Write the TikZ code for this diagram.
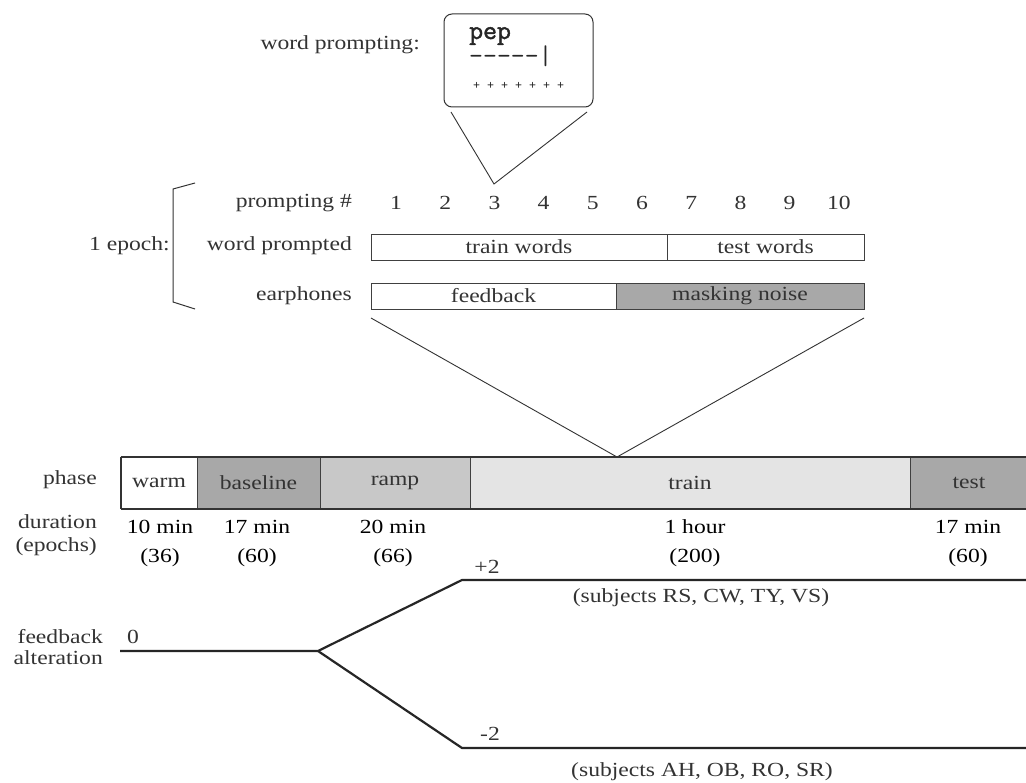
\documentclass[tikz,border=0pt]{standalone}
\usepackage{fontspec}
\setmainfont{Liberation Serif}[FakeStretch=1.18]
\newfontfamily\pepfont{Latin Modern Mono}[FakeBold=1.6]
\definecolor{dkfill}{HTML}{A8A8A8}
\definecolor{mdfill}{HTML}{C8C8C8}
\definecolor{ltfill}{HTML}{E4E4E4}
\definecolor{txtgray}{HTML}{333333}
\begin{document}
\begin{tikzpicture}[x=1pt,y=-1pt,
  lbl/.style={font=\fontsize{20}{22}\selectfont, text=txtgray, inner sep=0pt},
  dur/.style={font=\fontsize{20}{22}\selectfont, text=black, inner sep=0pt},
  seg/.style={draw=black!75, line width=0.9pt, inner sep=0pt, font=\fontsize{20}{22}\selectfont, text=txtgray},
  thinline/.style={line width=0.9pt, draw=black!80},
  fbline/.style={line width=2.2pt, draw=black!85, line join=miter},
  monotext/.style={inner sep=0pt, anchor=base west, text=black!85}]
\useasboundingbox (0,0) rectangle (1026,783);
\fill[white] (0,0) rectangle (1026,783);

% word prompting box
\node[lbl, anchor=east] (wpl) at (420,45) {word prompting:};
\node[draw=black!80, line width=1pt, rounded corners=8pt, minimum width=149pt, minimum height=93pt, inner sep=0pt] (promptbox) at (518.5,60.5) {};
\node[monotext, font=\pepfont\fontsize{27}{27}\selectfont] (pep) at (469,39) {pep};
\node[monotext, font=\ttfamily\fontsize{27}{27}\selectfont] (dash) at (469,65) {-----|};
\node[monotext, font=\ttfamily\fontsize{13.6}{14}\selectfont] (dots) at (473,90) {+ + + + + + +};
\coordinate (tl) at (451,112);
\coordinate (tr) at (587,112);
\coordinate (apexA) at (494,184);
\draw[thinline] (tl) -- (apexA) -- (tr);

% 1 epoch
\node[lbl, anchor=east] (epoch) at (170,246) {1 epoch:};
\draw[thinline, line width=1pt] (195,183) -- (173,189) -- (173,302) -- (195,309);
\node[lbl, anchor=east] (pnum) at (352,203) {prompting \#};
\node[lbl, anchor=east] (wprom) at (352,246) {word prompted};
\node[lbl, anchor=east] (earph) at (352,296) {earphones};
\foreach \i in {1,...,10}{
  \node[lbl] (n\i) at ({396+(\i-1)*49.2},203) {\i};
}
\node[seg, fill=white, minimum width=296pt, minimum height=26pt] (trainw) at (519,247) {train words};
\node[seg, fill=white, minimum width=197pt, minimum height=26pt] (testw) at (765.5,247) {test words};
\node[seg, fill=white, minimum width=245pt, minimum height=26pt] (fback) at (493.5,296) {feedback};
\node[seg, fill=dkfill, minimum width=248pt, minimum height=26pt] (mask) at (740,296) {masking noise};

\coordinate (bl) at (371,318);
\coordinate (br) at (864,318);
\coordinate (apexB) at (617,457);
\draw[thinline] (bl) -- (apexB) -- (br);

% phase bar
\node[lbl, anchor=east] (phase) at (97,480) {phase};
\node[seg, fill=white, minimum width=76pt, minimum height=52pt] (warm) at (159,483) {warm};
\node[seg, fill=dkfill, minimum width=123pt, minimum height=52pt] (base) at (258.5,483) {baseline};
\node[seg, fill=mdfill, minimum width=150pt, minimum height=52pt] (ramp) at (395,483) {ramp};
\node[seg, fill=ltfill, minimum width=440pt, minimum height=52pt] (train) at (690,483) {train};
\node[seg, fill=dkfill, minimum width=118pt, minimum height=52pt] (test) at (969,483) {test};
\draw[black!80, line width=2pt] (warm.north west) -- (test.north east);
\draw[black!80, line width=2pt] (warm.south west) -- (test.south east);
\draw[black!80, line width=2pt] (warm.north west) -- (warm.south west);

% durations
\node[lbl, anchor=east] (durl) at (97,522) {duration};
\node[lbl, anchor=east] (epl) at (97,547) {(epochs)};
\node[dur] (d1) at (160,527) {10 min};
\node[dur] (e1) at (160,558) {(36)};
\node[dur] (d2) at (257,527) {17 min};
\node[dur] (e2) at (257,558) {(60)};
\node[dur] (d3) at (393,527) {20 min};
\node[dur] (e3) at (393,558) {(66)};
\node[dur] (d4) at (695,527) {1 hour};
\node[dur] (e4) at (695,558) {(200)};
\node[dur] (d5) at (968,527) {17 min};
\node[dur] (e5) at (968,558) {(60)};

% feedback alteration
\node[lbl, anchor=east] (fb1) at (103,637) {feedback};
\node[lbl, anchor=east] (fb2) at (103,658) {alteration};
\node[lbl] (zero) at (133,637) {0};
\coordinate (fstart) at (120,651);
\coordinate (junc) at (318,651);
\coordinate (upk) at (462,580);
\coordinate (upe) at (1026,580);
\coordinate (lok) at (462,748);
\coordinate (loe) at (1026,748);
\draw[fbline] (fstart) -- (junc) -- (upk) -- (upe);
\draw[fbline] (junc) -- (lok) -- (loe);
\node[lbl] (plus) at (487,567) {+2};
\node[lbl] (minus) at (490,734) {-2};
\node[lbl] (subA) at (701,598) {(subjects RS, CW, TY, VS)};
\node[lbl] (subB) at (702,772) {(subjects AH, OB, RO, SR)};
\end{tikzpicture}
\end{document}
